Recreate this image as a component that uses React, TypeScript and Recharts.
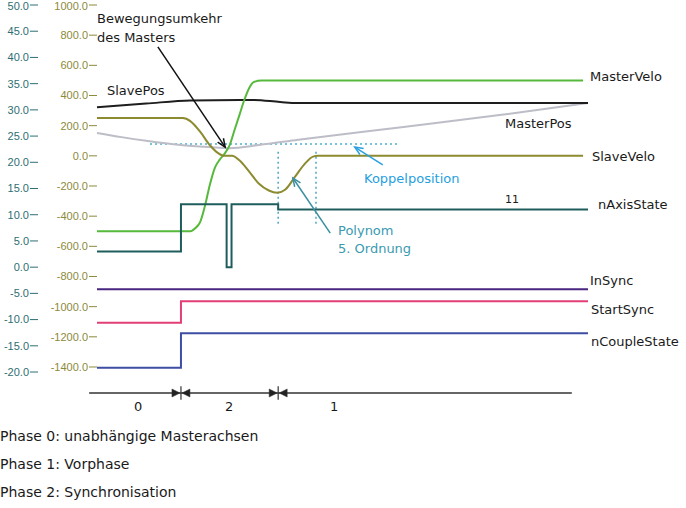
import { LineChart, Line, XAxis, YAxis, ReferenceLine } from 'recharts';

// Zeitachse 0..100, linke Achse (Positionen/Zustände) und Geschwindigkeitsachse
const tealTicks = [-20, -15, -10, -5, 0, 5, 10, 15, 20, 25, 30, 35, 40, 45, 50];
const oliveTicks = [-1400, -1200, -1000, -800, -600, -400, -200, 0, 200, 400, 600, 800, 1000];

const pts = (a: number[][]) => a.map(([t, v]) => ({ t, v }));

const masterVelo = pts([[0, -500], [19, -500], [20, -480], [21, -440], [22, -330], [23, -190], [24, -80], [25, -25], [26, 15], [27, 70], [28, 170], [29, 270], [30, 370], [31, 450], [32, 490], [33.5, 500], [99, 500]]);
const slaveVelo = pts([[0, 250], [17.5, 250], [19, 230], [21, 160], [23, 70], [24.6, 20], [26, 0], [27.5, 0], [29, -30], [31, -105], [33, -185], [35, -230], [36.7, -245], [38.3, -225], [40.3, -140], [42.4, -50], [44, -5], [45, 0], [99, 0]]);
const slavePos = pts([[0, 30.5], [10, 31.2], [19, 31.8], [31.7, 31.9], [37.3, 31.5], [40.7, 31.3], [100, 31.3]]);
const masterPos = pts([[0, 25.6], [5, 24.8], [10, 24.1], [17, 23.3], [23, 22.9], [27, 22.7], [33, 23.3], [41, 24.3], [62, 26.7], [82, 29.0], [100, 31.3]]);
const nAxisState = pts([[0, 3], [17.1, 3], [17.1, 12], [26.4, 12], [26.4, 0], [27.4, 0], [27.4, 12], [36.9, 12], [36.9, 11], [100, 11]]);
const inSync = pts([[0, -4.2], [100, -4.2]]);
const startSync = pts([[0, -10.6], [17.1, -10.6], [17.1, -6.5], [100, -6.5]]);
const nCoupleState = pts([[0, -19.2], [17.1, -19.2], [17.1, -12.6], [100, -12.6]]);

const phaseBounds = [17.1, 36.9];
const koppelPos = 23.5;
const koppelSpan = [10.8, 61.3];
const polyBounds = [36.9, 44.6];

const TEAL = '#2e6e72';
const OLIVE = '#8c8a3a';
const FONT = '"DejaVu Sans", sans-serif';

const arrows = [
  { from: [12.4, 42.0], to: [26.1, 22.9], color: '#111' },
  { from: [58.2, 19.5], to: [52.5, 22.9], color: '#2aa0e0' },
  { from: [47.5, 6.5], to: [39.9, 17.0], color: '#3a8fa0' },
];

const labels: { text: string; x: number; y: number; color?: string; size?: number }[] = [
  { text: 'Bewegungsumkehr', x: 97, y: 18 },
  { text: 'des Masters', x: 97, y: 37 },
  { text: 'SlavePos', x: 107, y: 90 },
  { text: 'MasterVelo', x: 590, y: 76 },
  { text: 'MasterPos', x: 505, y: 123 },
  { text: 'SlaveVelo', x: 592, y: 156 },
  { text: 'Koppelposition', x: 364, y: 178, color: '#1fa0e0' },
  { text: 'nAxisState', x: 598, y: 204 },
  { text: '11', x: 505, y: 199, size: 11 },
  { text: 'Polynom', x: 338, y: 230, color: '#3a9ab0' },
  { text: '5. Ordnung', x: 338, y: 248, color: '#3a9ab0' },
  { text: 'InSync', x: 590, y: 280 },
  { text: 'StartSync', x: 591, y: 309 },
  { text: 'nCoupleState', x: 591, y: 341 },
  { text: '0', x: 134, y: 406 },
  { text: '2', x: 225, y: 406 },
  { text: '1', x: 330, y: 406 },
  { text: 'Phase 0: unabhängige Masterachsen', x: 0, y: 436, size: 14 },
  { text: 'Phase 1: Vorphase', x: 0, y: 464, size: 14 },
  { text: 'Phase 2: Synchronisation', x: 0, y: 492, size: 14 },
];

const arrowShape = (color: string) => (p: any) => {
  const { x1, y1, x2, y2 } = p;
  const a = Math.atan2(y2 - y1, x2 - x1);
  const L = 9, w = 0.4;
  return (
    <g stroke={color} strokeWidth={1.5} fill="none">
      <line x1={x1} y1={y1} x2={x2} y2={y2} />
      <polyline points={`${x2 - L * Math.cos(a - w)},${y2 - L * Math.sin(a - w)} ${x2},${y2} ${x2 - L * Math.cos(a + w)},${y2 - L * Math.sin(a + w)}`} />
    </g>
  );
};

const boundShape = (p: any) => {
  const { x1, y1, y2 } = p;
  const my = (y1 + y2) / 2;
  return (
    <g fill="#222" stroke="#333">
      <line x1={x1} y1={y1} x2={x1} y2={y2} strokeWidth={1.2} />
      <polygon points={`${x1 - 1},${my} ${x1 - 9},${my - 4} ${x1 - 9},${my + 4}`} strokeWidth={0.5} />
      <polygon points={`${x1 + 1},${my} ${x1 + 9},${my - 4} ${x1 + 9},${my + 4}`} strokeWidth={0.5} />
    </g>
  );
};

export default function App() {
  return (
    <div style={{ position: 'absolute', left: 0, top: 0, width: 686, height: 508, background: '#fff' }}>
      <LineChart width={686} height={508} margin={{ top: 5, right: 98, bottom: 103, left: 0 }}>
        <XAxis dataKey="t" type="number" domain={[0, 100]} hide />
        <YAxis yAxisId="teal" type="number" domain={[-26.29, 50]} ticks={tealTicks} width={38} axisLine={false}
          tickSize={8} tickMargin={1} tickLine={{ stroke: TEAL }} tickFormatter={(v: number) => v.toFixed(1)}
          tick={{ fontSize: 11, fill: TEAL, fontFamily: '"Liberation Sans", Arial, sans-serif' }} />
        <YAxis yAxisId="olive" type="number" domain={[-1652, 1000]} ticks={oliveTicks} width={59} axisLine={false}
          tickSize={8} tickMargin={1} tickLine={{ stroke: OLIVE }} tickFormatter={(v: number) => v.toFixed(1)}
          tick={{ fontSize: 11, fill: OLIVE, fontFamily: '"Liberation Sans", Arial, sans-serif' }} />

        <ReferenceLine yAxisId="teal" segment={[{ x: koppelSpan[0], y: koppelPos }, { x: koppelSpan[1], y: koppelPos }]}
          stroke="#4ab0d0" strokeWidth={1.5} strokeDasharray="2 3" />
        {polyBounds.map((b) => (
          <ReferenceLine key={b} yAxisId="teal" segment={[{ x: b, y: 22.0 }, { x: b, y: 7.7 }]}
            stroke="#4aa8c0" strokeWidth={1.5} strokeDasharray="2 3" />
        ))}

        <Line data={masterPos} yAxisId="teal" dataKey="v" type="monotone" stroke="#bdbdc8" strokeWidth={2} dot={false} isAnimationActive={false} />
        <Line data={slavePos} yAxisId="teal" dataKey="v" type="monotone" stroke="#1e1e1e" strokeWidth={2} dot={false} isAnimationActive={false} />
        <Line data={masterVelo} yAxisId="olive" dataKey="v" type="monotone" stroke="#56b93c" strokeWidth={2} dot={false} isAnimationActive={false} />
        <Line data={slaveVelo} yAxisId="olive" dataKey="v" type="monotone" stroke="#8c8b30" strokeWidth={2} dot={false} isAnimationActive={false} />
        <Line data={nAxisState} yAxisId="teal" dataKey="v" type="linear" stroke="#1f5d5d" strokeWidth={2} dot={false} isAnimationActive={false} />
        <Line data={inSync} yAxisId="teal" dataKey="v" type="linear" stroke="#4a2580" strokeWidth={2} dot={false} isAnimationActive={false} />
        <Line data={startSync} yAxisId="teal" dataKey="v" type="linear" stroke="#e23f78" strokeWidth={2} dot={false} isAnimationActive={false} />
        <Line data={nCoupleState} yAxisId="teal" dataKey="v" type="linear" stroke="#3e4ea3" strokeWidth={2} dot={false} isAnimationActive={false} />

        {arrows.map((a, i) => (
          <ReferenceLine key={'a' + i} yAxisId="teal" ifOverflow="visible"
            segment={[{ x: a.from[0], y: a.from[1] }, { x: a.to[0], y: a.to[1] }]} shape={arrowShape(a.color)} />
        ))}

        <ReferenceLine yAxisId="teal" ifOverflow="visible" segment={[{ x: -1.6, y: -24 }, { x: 96.7, y: -24 }]}
          stroke="#333" strokeWidth={1.5} />
        {phaseBounds.map((b) => (
          <ReferenceLine key={'p' + b} yAxisId="teal" ifOverflow="visible"
            segment={[{ x: b, y: -22.7 }, { x: b, y: -25.3 }]} shape={boundShape} />
        ))}
      </LineChart>
      <svg width={686} height={508} style={{ position: 'absolute', left: 0, top: 0, pointerEvents: 'none' }}>
        {labels.map((l, i) => (
          <text key={i} x={l.x} y={l.y} dominantBaseline="central" fontFamily={FONT}
            fontSize={l.size ?? 13} fill={l.color ?? '#1a1a1a'}>{l.text}</text>
        ))}
      </svg>
    </div>
  );
}
